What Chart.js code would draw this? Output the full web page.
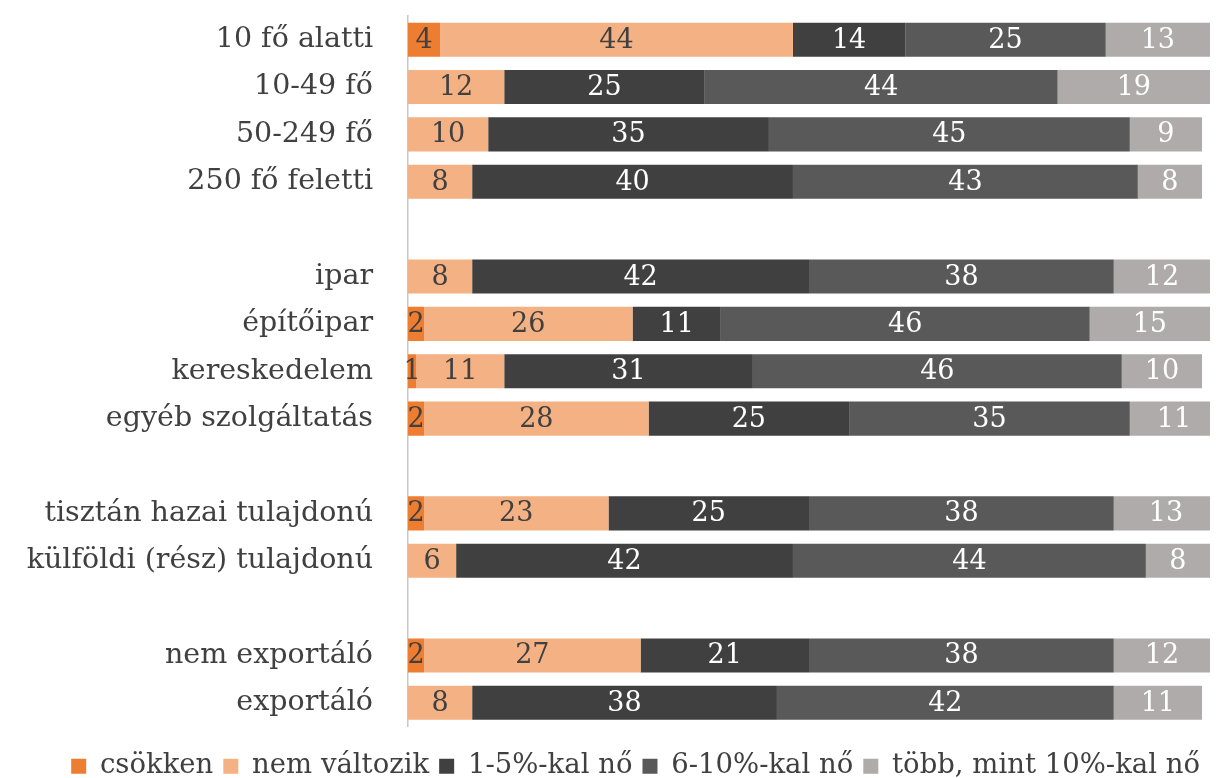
<!DOCTYPE html>
<html>
<head>
<meta charset="utf-8">
<script src="https://cdn.jsdelivr.net/npm/chart.js@4"></script>
<style>
  html, body { margin: 0; padding: 0; background: #fff; overflow: hidden; }
  #wrap { width: 1220px; height: 790px; }
</style>
</head>
<body>
<div id="wrap"><canvas id="chart"></canvas></div>
<script>
// --- Data ---
const categories = [
    '10 fő alatti', '10-49 fő', '50-249 fő', '250 fő feletti', '',
    'ipar', 'építőipar', 'kereskedelem', 'egyéb szolgáltatás', '',
    'tisztán hazai tulajdonú', 'külföldi (rész) tulajdonú', '',
    'nem exportáló', 'exportáló'
];
const seriesNames = ['csökken', 'nem változik', '1-5%-kal nő', '6-10%-kal nő', 'több, mint 10%-kal nő'];

const csokken     = [4, null, null, null, null, null, 2, 1, 2, null, 2, null, null, 2, null];
const nemValtozik = [44, 12, 10, 8, null, 8, 26, 11, 28, null, 23, 6, null, 27, 8];
const no1_5       = [14, 25, 35, 40, null, 42, 11, 31, 25, null, 25, 42, null, 21, 38];
const no6_10      = [25, 44, 45, 43, null, 38, 46, 46, 35, null, 38, 44, null, 38, 42];
const tobbMint10  = [13, 19, 9, 8, null, 12, 15, 10, 11, null, 13, 8, null, 12, 11];

const colors = ['#ED7D31', '#F4B183', '#404040', '#595959', '#AFABAB'];
const labelColors = ['#404040', '#404040', '#ffffff', '#ffffff', '#ffffff'];

const FONT = '"DejaVu Serif", "Liberation Serif", serif';

// --- Value labels drawn on the bars ---
const barLabels = {
    id: 'barLabels',
    afterDatasetsDraw(chart) {
        const ctx = chart.ctx;
        ctx.save();
        ctx.font = '27px ' + FONT;
        ctx.textAlign = 'center';
        ctx.textBaseline = 'middle';
        chart.data.datasets.forEach((ds, i) => {
            const meta = chart.getDatasetMeta(i);
            meta.data.forEach((bar, j) => {
                const v = ds.data[j];
                if (v === null || v === undefined) return;
                const left = Math.min(bar.x, bar.base);
                const w = Math.abs(bar.x - bar.base);
                ctx.fillStyle = labelColors[i];
                ctx.fillText(String(v), left + w / 2, bar.y + 1);
            });
        });
        ctx.restore();
    }
};

const seriesData = [csokken, nemValtozik, no1_5, no6_10, tobbMint10];

new Chart(document.getElementById('chart'), {
    type: 'bar',
    data: {
        labels: categories,
        datasets: seriesData.map((d, i) => ({
            label: seriesNames[i],
            data: d,
            backgroundColor: colors[i],
            borderWidth: 0,
            barPercentage: 0.72,
            categoryPercentage: 1
        }))
    },
    options: {
        indexAxis: 'y',
        responsive: true,
        maintainAspectRatio: false,
        animation: false,
        layout: { padding: { top: 16, right: 10, left: 0, bottom: 0 } },
        scales: {
            x: {
                stacked: true,
                min: 0,
                max: 100,
                grid: { display: false, drawTicks: false },
                border: { display: false },
                ticks: { display: false },
                afterFit(scale) {
                    // just a gap between the bars and the legend
                    scale.height = 16;
                }
            },
            y: {
                stacked: true,
                grid: { display: false, drawTicks: false },
                border: { display: true, color: '#C8C8C8', width: 1.5 },
                ticks: {
                    color: '#404040',
                    padding: 35,
                    font: { family: FONT, size: 28.5 }
                },
                afterFit(scale) {
                    // labels sit inside the category bands, no extra room needed
                    scale.paddingTop = 0;
                    scale.paddingBottom = 0;
                    scale.width = 408;
                }
            }
        },
        plugins: {
            legend: {
                position: 'bottom',
                align: 'end',
                labels: {
                    color: '#404040',
                    boxWidth: 15,
                    boxHeight: 15,
                    padding: 10,
                    font: { family: FONT, size: 27.5 }
                }
            },
            tooltip: { enabled: false }
        }
    },
    plugins: [barLabels]
});
</script>
</body>
</html>
